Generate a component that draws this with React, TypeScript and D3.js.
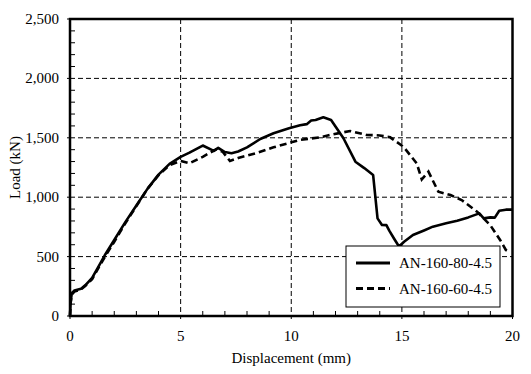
import React from "react";
import { scaleLinear, line, range, format } from "d3";

// AN-160-80-4.5 (solid)
const dispA = [0, 0.03, 0.08, 0.2, 0.5, 0.7, 1.0, 1.3, 1.6, 2.0, 2.5, 3.0, 3.5, 4.0, 4.5, 5.0, 5.4, 5.7, 6.0, 6.5, 6.7, 7.0, 7.3, 7.6, 8.0, 8.6, 9.2, 9.9, 10.4, 10.7, 10.9, 11.1, 11.45, 11.8, 12.36, 12.9, 13.3, 13.7, 13.9, 14.1, 14.3, 14.43, 14.65, 14.87, 15.1, 15.5, 16.0, 16.4, 17.0, 17.5, 18.0, 18.5, 18.7, 19.0, 19.2, 19.4, 19.7, 20.0];
const loadA = [0, 120, 190, 215, 230, 260, 320, 420, 520, 640, 790, 930, 1070, 1190, 1280, 1340, 1375, 1405, 1435, 1390, 1415, 1380, 1370, 1385, 1420, 1490, 1538, 1580, 1605, 1615, 1645, 1650, 1673, 1650, 1496, 1299, 1245, 1187, 822, 766, 765, 718, 650, 585, 625, 682, 720, 752, 780, 802, 830, 864, 822, 830, 828, 886, 895, 895];

// AN-160-60-4.5 (dashed)
const dispB = [0, 0.03, 0.08, 0.2, 0.5, 0.7, 1.0, 1.3, 1.6, 2.0, 2.5, 3.0, 3.5, 4.0, 4.5, 5.0, 5.4, 6.0, 6.6, 6.9, 7.23, 7.6, 8.4, 9.2, 9.95, 10.4, 11.3, 11.9, 12.66, 13.4, 14.0, 14.47, 15.07, 15.67, 15.9, 16.2, 16.35, 16.65, 17.2, 17.7, 18.4, 18.99, 19.44, 19.7, 19.85];
const loadB = [0, 110, 180, 205, 225, 255, 310, 410, 505, 625, 780, 925, 1070, 1185, 1270, 1305, 1285, 1340, 1403, 1383, 1305, 1330, 1370, 1420, 1459, 1482, 1504, 1530, 1557, 1524, 1520, 1504, 1425, 1285, 1150, 1215, 1159, 1046, 1018, 976, 878, 766, 640, 556, 540];

const xTicks = [0, 5, 10, 15, 20];
const yTicks = [0, 500, 1000, 1500, 2000, 2500];
const legendLabels = ["AN-160-80-4.5", "AN-160-60-4.5"];

const font = "'Liberation Serif', 'Times New Roman', serif";

export default function App() {
  const width = 531;
  const height = 374;
  const margin = { top: 19, right: 18.5, bottom: 58, left: 70 };
  const innerWidth = width - margin.left - margin.right;
  const innerHeight = height - margin.top - margin.bottom;

  const x = scaleLinear().domain([0, 20]).range([0, innerWidth]);
  const y = scaleLinear().domain([0, 2500]).range([innerHeight, 0]);
  const fmt = format(",");

  const pathOf = (xs: number[], ys: number[]) =>
    line<number>()
      .x((_, i) => x(xs[i]))
      .y((_, i) => y(ys[i]))(ys.map((_, i) => i)) || "";

  const xMinor = range(1, 20).filter((d) => d % 5 !== 0);
  const yMinor = range(100, 2500, 100).filter((d) => d % 500 !== 0);

  const lg = { x: 346 - margin.left, y: 246 - margin.top, w: 154, h: 61 };

  return (
    <svg width={width} height={height} style={{ position: "absolute", left: 0, top: 0, background: "#fff" }}>
      <g transform={`translate(${margin.left},${margin.top})`} fontFamily={font}>
        {/* grid */}
        {xTicks.slice(1, -1).map((t) => (
          <line key={"gx" + t} x1={x(t)} x2={x(t)} y1={0} y2={innerHeight} stroke="#000" strokeWidth={1} strokeDasharray="5,3" />
        ))}
        {yTicks.slice(1, -1).map((t) => (
          <line key={"gy" + t} x1={0} x2={innerWidth} y1={y(t)} y2={y(t)} stroke="#000" strokeWidth={1} strokeDasharray="5,3" />
        ))}

        {/* minor ticks */}
        {xMinor.map((t) => (
          <line key={"mx" + t} x1={x(t)} x2={x(t)} y1={innerHeight} y2={innerHeight - 5} stroke="#000" strokeWidth={1} />
        ))}
        {yMinor.map((t) => (
          <line key={"my" + t} x1={0} x2={5} y1={y(t)} y2={y(t)} stroke="#000" strokeWidth={1} />
        ))}
        {xTicks.map((t) => (
          <line key={"tx" + t} x1={x(t)} x2={x(t)} y1={innerHeight} y2={innerHeight + 3} stroke="#000" strokeWidth={1} />
        ))}
        {yTicks.map((t) => (
          <line key={"ty" + t} x1={-3} x2={0} y1={y(t)} y2={y(t)} stroke="#000" strokeWidth={1} />
        ))}

        {/* curves */}
        <path d={pathOf(dispA, loadA)} fill="none" stroke="#000" strokeWidth={2.6} strokeLinejoin="round" />
        <path d={pathOf(dispB, loadB)} fill="none" stroke="#000" strokeWidth={2.6} strokeDasharray="7,4" />

        {/* frame */}
        <rect x={0} y={0} width={innerWidth} height={innerHeight} fill="none" stroke="#000" strokeWidth={2.5} />

        {/* tick labels */}
        {xTicks.map((t) => (
          <text key={"lx" + t} x={x(t)} y={innerHeight + 25} textAnchor="middle" fontSize={15}>
            {t}
          </text>
        ))}
        {yTicks.map((t) => (
          <text key={"ly" + t} x={-11} y={y(t) + 5} textAnchor="end" fontSize={15}>
            {fmt(t)}
          </text>
        ))}

        {/* axis titles */}
        <text x={innerWidth / 2} y={innerHeight + 47} textAnchor="middle" fontSize={15}>
          Displacement (mm)
        </text>
        <text transform={`translate(${-50},${innerHeight / 2}) rotate(-90)`} textAnchor="middle" fontSize={15}>
          Load (kN)
        </text>

        {/* legend */}
        <rect x={lg.x} y={lg.y} width={lg.w} height={lg.h} fill="#fff" stroke="#000" strokeWidth={1} />
        {legendLabels.map((label, i) => (
          <g key={label} transform={`translate(${lg.x},${lg.y + 17 + i * 25.5})`}>
            <line x1={10} x2={44} y1={0} y2={0} stroke="#000" strokeWidth={2.8} strokeDasharray={i === 1 ? "7,4" : undefined} />
            <text x={53} y={5} fontSize={15}>
              {label}
            </text>
          </g>
        ))}
      </g>
    </svg>
  );
}
